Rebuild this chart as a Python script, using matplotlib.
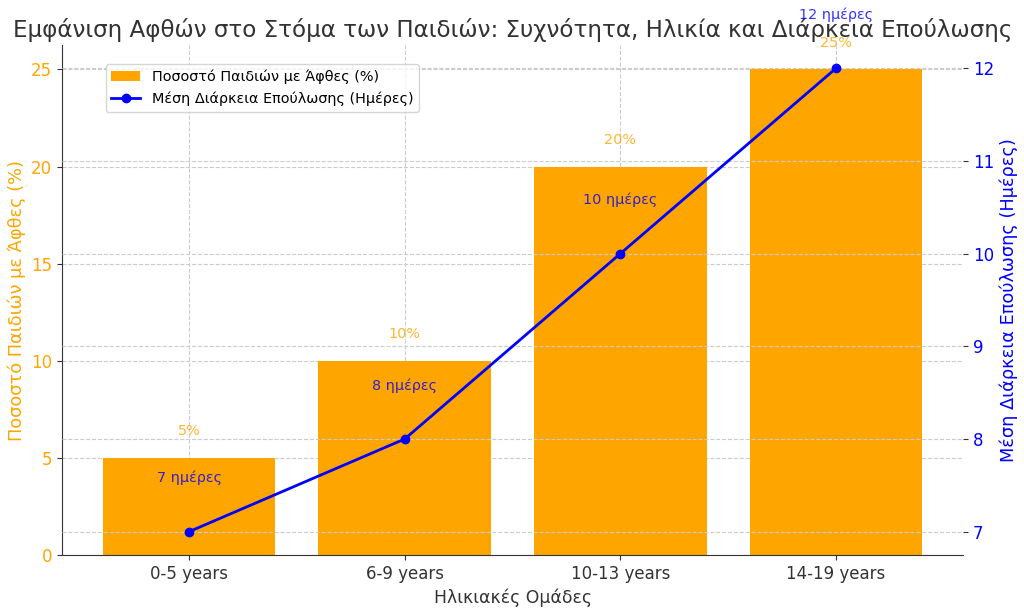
import numpy as np
import matplotlib
matplotlib.use('Agg')
import matplotlib.pyplot as plt

# data
age_groups = ['0-5 years', '6-9 years', '10-13 years', '14-19 years']
percent_kids = [5, 10, 20, 25]
heal_days = [7, 8, 10, 12]

text_col = '#333333'
plt.rcParams['font.family'] = ['DejaVu Sans']

fig, ax = plt.subplots(figsize=(10.24, 6.11), dpi=100)
fig.subplots_adjust(left=0.0605, right=0.9405, top=0.926, bottom=0.092)

x = np.arange(len(age_groups))
ax.bar(x, percent_kids, width=0.8, color='orange', label='Ποσοστό Παιδιών με Άφθες (%)')
ax.set_xticks(x)
ax.set_xticklabels(age_groups, fontsize=12, color=text_col)
ax.set_xlabel('Ηλικιακές Ομάδες', fontsize=12.4, color=text_col)
ax.set_ylabel('Ποσοστό Παιδιών με Άφθες (%)', fontsize=12.8, color='orange')
ax.tick_params(axis='y', labelcolor='orange', labelsize=12, color=text_col)
ax.tick_params(axis='x', color=text_col)
ax.grid(True, linestyle='--', color='#cccccc', linewidth=0.8)
ax.set_axisbelow(True)
for i, p in enumerate(percent_kids):
    ax.text(x[i], p + 1, f'{p}%', ha='center', va='bottom', color='orange',
            alpha=0.8, fontsize=10.4)

ax2 = ax.twinx()
ax2.plot(x, heal_days, color='blue', marker='o', linewidth=2, markersize=6,
         label='Μέση Διάρκεια Επούλωσης (Ημέρες)')
ax2.set_ylabel('Μέση Διάρκεια Επούλωσης (Ημέρες)', fontsize=12.8, color='blue')
ax2.tick_params(axis='y', labelcolor='blue', labelsize=12, color=text_col)
ax2.grid(True, axis='y', linestyle='--', color='#cccccc', linewidth=0.8)
for i, d in enumerate(heal_days):
    ax2.text(x[i], d + 0.5, f'{d} ημέρες', ha='center', va='bottom', color='blue',
             alpha=0.8, fontsize=10.4)

for a in (ax, ax2):
    a.spines['top'].set_visible(False)
    a.spines['right'].set_visible(False)
ax2.spines['left'].set_visible(False)
ax2.spines['bottom'].set_visible(False)
ax.spines['left'].set_color(text_col)
ax.spines['bottom'].set_color(text_col)

ax.set_title('Εμφάνιση Αφθών στο Στόμα των Παιδιών: Συχνότητα, Ηλικία και Διάρκεια Επούλωσης',
             fontsize=16.6, color=text_col)

fig.legend(loc='upper left', bbox_to_anchor=(0.096, 0.907), fontsize=10.4)

fig.savefig('out.png', dpi=100)
